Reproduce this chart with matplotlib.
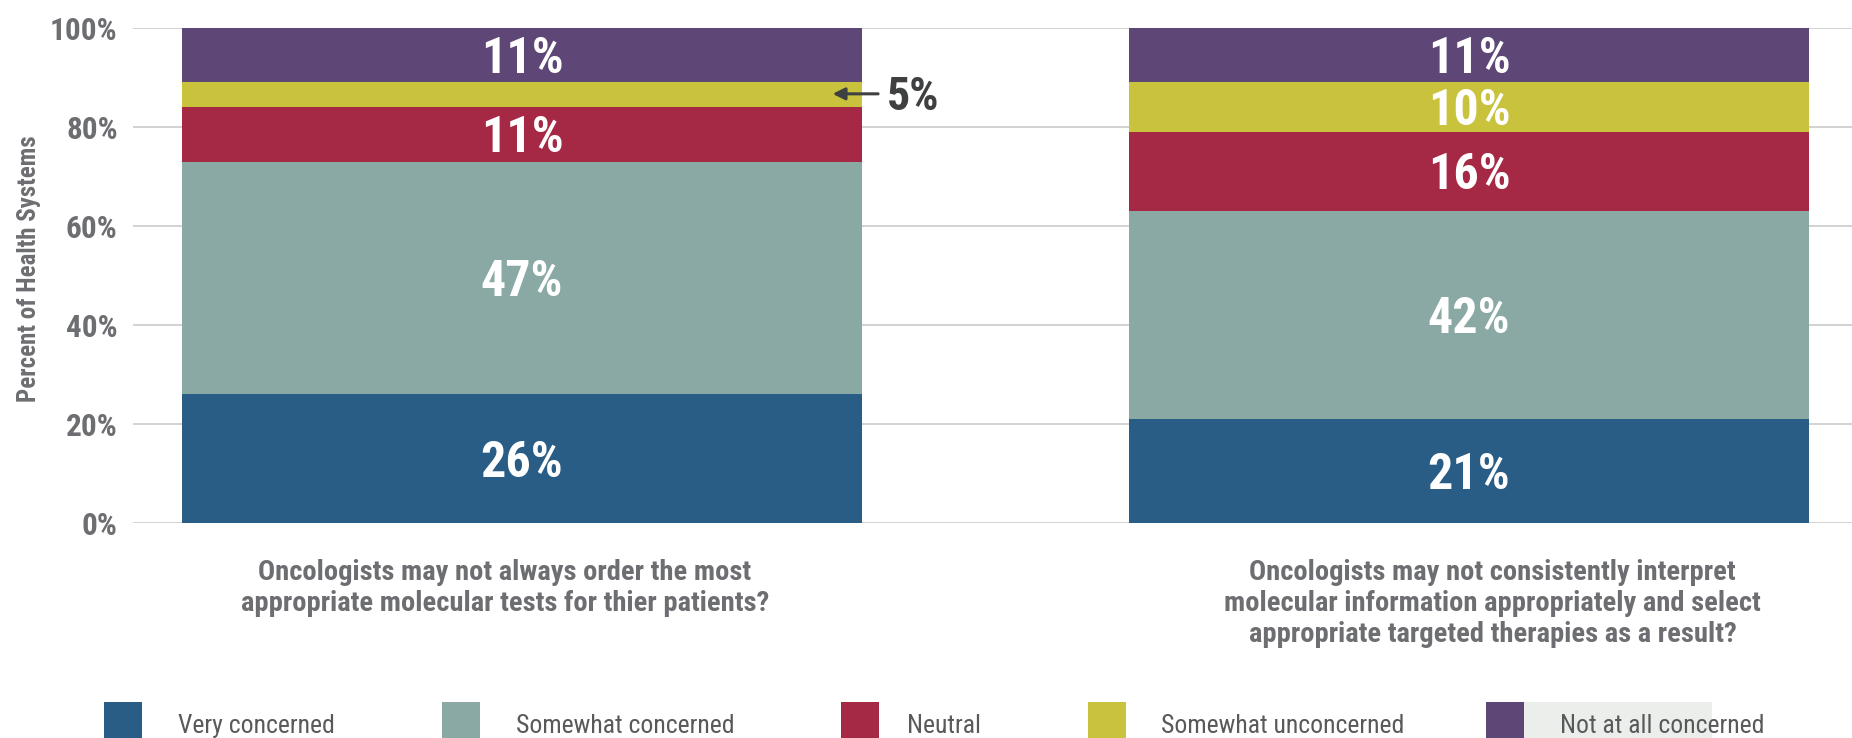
import matplotlib
matplotlib.use("Agg")
import matplotlib.pyplot as plt
from matplotlib import font_manager, transforms
from matplotlib.patches import Rectangle

# survey answers, percent of health systems
questions = [
    "Oncologists may not always order the most\nappropriate molecular tests for thier patients?",
    "Oncologists may not consistently interpret\nmolecular information appropriately and select\nappropriate targeted therapies as a result?",
]
levels = ["Very concerned", "Somewhat concerned", "Neutral",
          "Somewhat unconcerned", "Not at all concerned"]
very_concerned = [26, 21]
somewhat_concerned = [47, 42]
neutral = [11, 16]
somewhat_unconcerned = [5, 10]
not_at_all_concerned = [11, 11]
y_ticks = [0, 20, 40, 60, 80, 100]
y_ticklabels = ["0%", "20%", "40%", "60%", "80%", "100%"]

colors = ["#295d86", "#8aa9a5", "#a52944", "#c9c23c", "#5e4677"]
GREY = "#6d6e71"
DARK = "#3f4042"

# narrowest installed sans
installed = {f.name for f in font_manager.fontManager.ttflist}
FONT = "DejaVu Sans"
for name in ["Liberation Sans Narrow", "DejaVu Sans Condensed", "Roboto Condensed", "Liberation Sans"]:
    if name in installed:
        FONT = name
        break
plt.rcParams["font.family"] = [FONT, "DejaVu Sans"]

W, H = 1852, 738


def fx(px):
    return px / W


def fy(py):
    return 1 - py / H


fig = plt.figure(figsize=(W / 100, H / 100), dpi=100)
ax = fig.add_axes([fx(133), fy(523), 1719 / W, 495 / H])

series = [very_concerned, somewhat_concerned, neutral,
          somewhat_unconcerned, not_at_all_concerned]
x = list(range(len(questions)))
bar_w = 0.718
VAL_FS = 36
bottoms = [0] * len(questions)
for vals, col in zip(series, colors):
    ax.bar(x, vals, bar_w, bottom=bottoms, color=col, zorder=2)
    for i, v in enumerate(vals):
        mid = bottoms[i] + v / 2
        if v >= 10:
            ax.annotate(f"{v}%", xy=(x[i], mid), xytext=(0, -0.716 * VAL_FS / 2),
                        textcoords="offset points", ha="center", va="baseline",
                        fontsize=VAL_FS, fontweight="bold", color="white", zorder=3)
    bottoms = [b + v for b, v in zip(bottoms, vals)]

# small slice on the first bar gets a pointer instead
small = somewhat_unconcerned[0]
small_mid = very_concerned[0] + somewhat_concerned[0] + neutral[0] + small / 2 + 0.2
ax.annotate("", xy=(0.328, small_mid), xytext=(0.376, small_mid),
            arrowprops=dict(arrowstyle="-|>", color=DARK, lw=2.2, mutation_scale=18,
                            shrinkA=0, shrinkB=0), zorder=4)
ax.annotate(f"{small}%", xy=(0.385, small_mid), xytext=(0, -0.716 * 33 / 2),
            textcoords="offset points", ha="left", va="baseline",
            fontsize=33, fontweight="bold", color=DARK)

ax.set_xlim(-0.4108, 1.4044)
ax.set_ylim(0, 100)
ax.set_yticks(y_ticks)
ax.set_yticklabels(y_ticklabels, fontsize=22.5, fontweight="bold", color=GREY)
ax.tick_params(axis="y", length=0, pad=11)
ax.set_xticks([])
ax.grid(axis="y", color="#cfcfcf", lw=1.3, zorder=0)
ax.set_axisbelow(True)
for s in ax.spines.values():
    s.set_visible(False)

fig.text(fx(29), fy(269), "Percent of Health Systems", rotation=90,
         ha="center", va="center", fontsize=18, fontweight="bold", color=GREY)

# question text under each bar
blend = transforms.blended_transform_factory(ax.transData, fig.transFigure)
for xi, dx, q in zip(x, [-0.018, 0.025], questions):
    ax.text(xi + dx, fy(559), q, transform=blend, ha="center", va="top",
            fontsize=20.5, fontweight="bold", color=GREY, linespacing=1.2,
            multialignment="center")

# legend row along the bottom
patch_x = [104, 442, 841, 1088, 1486]
text_x = [178, 516, 907, 1161, 1560]
fig.add_artist(Rectangle((fx(1486), 0), fx(1712) - fx(1486), fy(702),
                         transform=fig.transFigure, color="#eceeec", lw=0, zorder=0))
for px, tx, lab, col in zip(patch_x, text_x, levels, colors):
    fig.add_artist(Rectangle((fx(px), 0), 38 / W, fy(702),
                             transform=fig.transFigure, color=col, lw=0, zorder=1))
    fig.text(fx(tx), fy(733), lab, ha="left", va="baseline",
             fontsize=18.5, color="#58595b", zorder=2)

fig.savefig("out.png", dpi=100)
